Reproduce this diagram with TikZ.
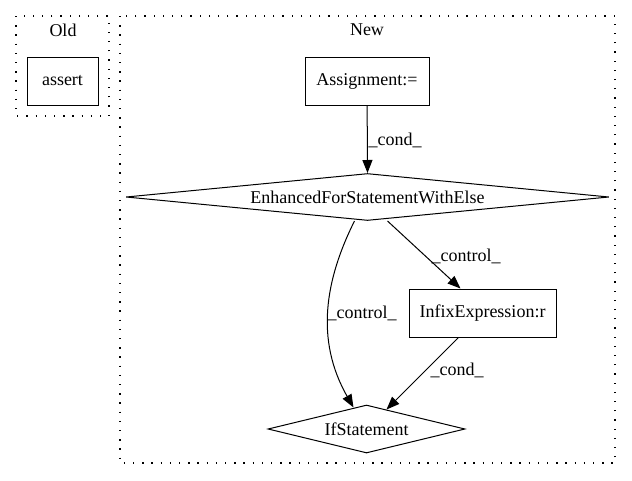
\documentclass[tikz,border=0pt]{standalone}
\usepackage{fontspec}
\setmainfont{Liberation Serif}
\usetikzlibrary{shapes.geometric,arrows.meta,calc}
\begin{document}
\begin{tikzpicture}[x=1pt,y=-1pt,
  every node/.style={font=\fontsize{18}{21}\selectfont},
  box/.style={draw, rectangle, minimum height=48pt, inner sep=0pt, line width=1pt},
  dia/.style={draw, diamond, inner sep=0pt, line width=1pt},
  cluster/.style={draw, line width=1.3pt, dash pattern=on 1.3pt off 7.9pt},
  edge/.style={draw, line width=1pt, -{Triangle[length=13pt,width=10pt]}},
  lbl/.style={inner sep=0pt}]
\useasboundingbox (0,0) rectangle (632,480);
\draw[cluster] (16,16) rectangle (109,116);
\draw[cluster] (120,16) rectangle (615,463);
\node (oldlbl) at (63,30) {Old};
\node (newlbl) at (367,30) {New};
\node[box, minimum width=71pt] (assert) at (62.5,81) {assert};
\node[box, minimum width=124pt] (asg) at (367,81) {Assignment:=};
\node[dia, minimum width=483pt, minimum height=47pt, aspect=10] (enh) at (367.5,197) {EnhancedForStatementWithElse};
\node[box, minimum width=147pt] (infix) at (482.5,313) {InfixExpression:r};
\node[dia, minimum width=197pt, minimum height=48pt, aspect=4] (ifs) at (366.5,429) {IfStatement};
\draw[edge] (asg) -- (enh.north);
\draw[edge] ([xshift=20pt]enh.south) -- ([xshift=-22pt]infix.north);
\draw[edge] ([xshift=-13pt]enh.south) .. controls (325,280) and (315,340) .. ($(ifs.north)+(-13,3)$);
\draw[edge] ([xshift=-24pt]infix.south) -- ($(ifs.north)+(20,5)$);
\node[lbl] (l1) at (395,140) {\_cond\_};
\node[lbl] (l2) at (466,256) {\_control\_};
\node[lbl] (l3) at (362,313) {\_control\_};
\node[lbl] (l4) at (457,370) {\_cond\_};
\end{tikzpicture}
\end{document}
